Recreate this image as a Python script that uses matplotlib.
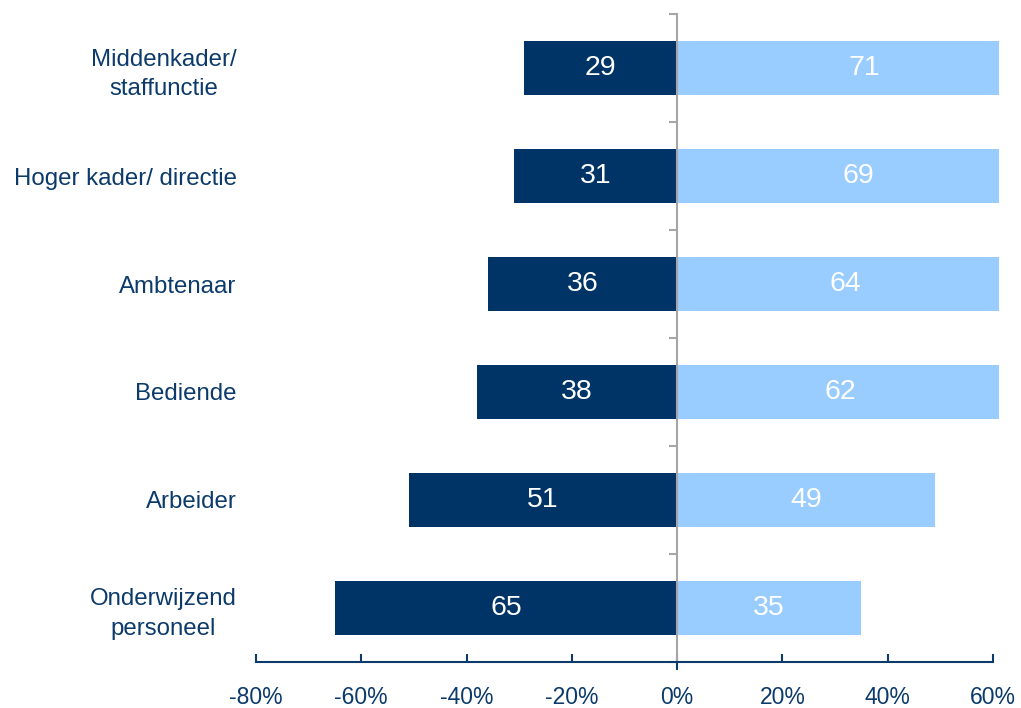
import matplotlib
matplotlib.use("Agg")
import matplotlib.pyplot as plt
import numpy as np
from matplotlib.ticker import FixedLocator, FuncFormatter

categories = ["Middenkader/\nstaffunctie", "Hoger kader/ directie", "Ambtenaar",
              "Bediende", "Arbeider", "Onderwijzend\npersoneel"]
left_values = [29, 31, 36, 38, 51, 65]
right_values = [71, 69, 64, 62, 49, 35]
x_ticks = [-80, -60, -40, -20, 0, 20, 40, 60]

dark = "#003366"
light = "#99CCFF"
navy_text = "#0B3A6B"
gray = "#A6A6A6"

plt.rcParams['font.family'] = ['Liberation Sans', 'DejaVu Sans']

fig = plt.figure(figsize=(10.21, 7.08), dpi=100)
ax = fig.add_axes([0.2507, 0.065, 0.9787 - 0.2507, 0.9802 - 0.065])

y = np.arange(len(categories))
lv = np.array(left_values)
rv = np.array(right_values)
ax.barh(y, -lv, height=0.5, color=dark, zorder=1)
ax.barh(y, rv, height=0.5, color=light, zorder=1)

for yi, l, r in zip(y, lv, rv):
    ax.text(-l / 2, yi, f"{l}", ha="center", va="center", color="white", fontsize=20.5)
    ax.text(r / 2, yi, f"{r}", ha="center", va="center", color="white", fontsize=20.5)

ax.set_xlim(-80, 61.2)
ax.set_ylim(len(categories) - 0.5, -0.5)

# x axis
ax.set_xticks(x_ticks)
ax.xaxis.set_major_formatter(FuncFormatter(lambda v, p: f"{int(v)}%"))
ax.xaxis.remove_overlapping_locs = False
ax.xaxis.set_minor_locator(FixedLocator([0]))
ax.spines['bottom'].set_bounds(-80, 60)
ax.spines['bottom'].set_color(navy_text)
ax.spines['bottom'].set_linewidth(1.5)
ax.tick_params(axis='x', which='major', direction='in', length=6, width=1.5,
               color=navy_text, labelcolor=navy_text, labelsize=16.5, pad=17)
ax.tick_params(axis='x', which='minor', direction='out', length=6, width=1.5,
               color=navy_text)

# y axis: labels on left, gray spine at zero (right spine moved)
ax.spines['top'].set_visible(False)
ax.spines['left'].set_visible(False)
ax.spines['right'].set_position(('data', 0))
ax.spines['right'].set_color(gray)
ax.spines['right'].set_linewidth(1.5)
ax.yaxis.set_ticks_position('both')
ax.set_yticks(y)
ax.set_yticklabels(categories, multialignment='center', linespacing=1.45)
ax.yaxis.set_minor_locator(FixedLocator(np.arange(-0.5, len(categories), 1.0)))
ax.tick_params(axis='y', which='major', length=0, left=True, right=False,
               labelleft=True, labelright=False, labelsize=17.3,
               labelcolor=navy_text, pad=14)
ax.tick_params(axis='y', which='minor', left=False, right=True, direction='in',
               length=6, width=1.5, color=gray)

fig.savefig("out.png", dpi=100)
